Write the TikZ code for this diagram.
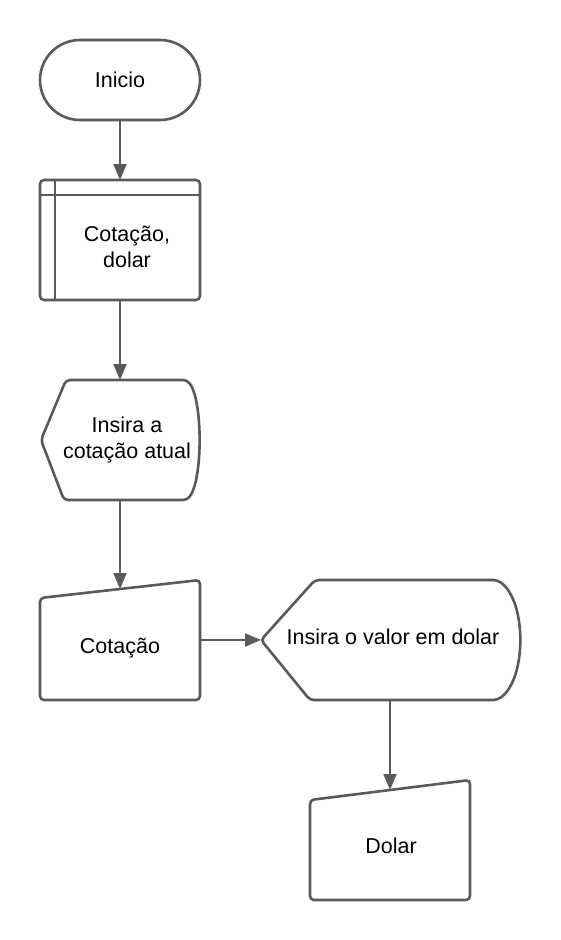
\documentclass[tikz,border=0pt]{standalone}
\usepackage{fontspec}
\setmainfont{Liberation Sans}
\usetikzlibrary{arrows.meta}
\definecolor{linegray}{HTML}{5A5A5A}
\begin{document}
\begin{tikzpicture}[x=1pt,y=-1pt,
  shapeline/.style={draw=linegray, line width=2.6pt, fill=white, rounded corners=4pt},
  conn/.style={draw=linegray, line width=2.2pt, -{Triangle[length=16pt,width=13pt]}},
  lbl/.style={font=\fontsize{21.5}{25.5}\selectfont, text=black, inner sep=0pt, align=center}]
\useasboundingbox[fill=white] (0,0) rectangle (560,940);

% Inicio (terminal)
\path[shapeline, rounded corners=40pt] (40,40) rectangle (200,120);
\node[lbl, anchor=base] (inicio) at (120,87) {Inicio};
\coordinate (inicio-s) at (120,120);

% Cotacao, dolar (internal storage)
\path[shapeline] (40,180) rectangle (200,300);
\draw[linegray, line width=2.6pt] (55,180) -- (55,300);
\draw[linegray, line width=2.6pt] (40,195) -- (200,195);
\node[lbl] (store) at (127,247) {Cotação,\\dolar};
\coordinate (store-n) at (120,180);
\coordinate (store-s) at (120,300);

% Insira a cotacao atual (display)
\path[shapeline] (66,380) -- (187,380) .. controls (203,400) and (203,480) .. (187,500)
  -- (64,500) -- (41,440) -- cycle;
\node[lbl] (disp1) at (127,440) {Insira a\\cotação atual};
\coordinate (disp1-n) at (120,380);
\coordinate (disp1-s) at (120,500);

% Cotacao (manual input)
\path[shapeline] (40,598) -- (200,580) -- (200,700) -- (40,700) -- cycle;
\node[lbl, anchor=base] (cot) at (120,653) {Cotação};
\coordinate (cot-n) at (120,589);
\coordinate (cot-e) at (200,640);

% Insira o valor em dolar (display)
\path[shapeline] (315,580) -- (497,580) .. controls (527,600) and (527,680) .. (497,700)
  -- (310,700) -- (261,640) -- cycle;
\node[lbl, anchor=base] (disp2) at (393,644) {Insira o valor em dolar};
\coordinate (disp2-w) at (261,640);
\coordinate (disp2-s) at (390,700);

% Dolar (manual input)
\path[shapeline] (310,800) -- (470,780) -- (470,900) -- (310,900) -- cycle;
\node[lbl, anchor=base] (dolar) at (391,853) {Dolar};
\coordinate (dolar-n) at (390,790);

% connectors
\draw[conn] (inicio-s) -- (store-n);
\draw[conn] (store-s) -- (disp1-n);
\draw[conn] (disp1-s) -- (cot-n);
\draw[conn] (cot-e) -- (disp2-w);
\draw[conn] (disp2-s) -- (dolar-n);
\end{tikzpicture}
\end{document}
